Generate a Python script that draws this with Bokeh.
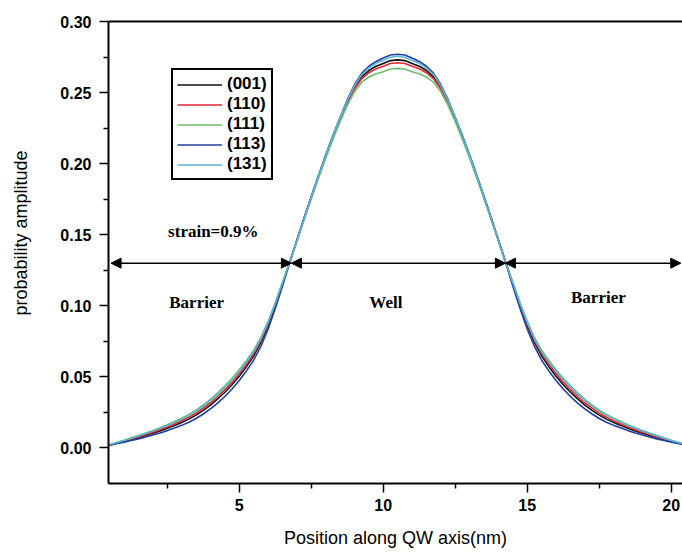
import numpy as np
from bokeh.plotting import figure
from bokeh.models import (Range1d, FixedTicker, LinearAxis, Legend, LegendItem,
                          Arrow, NormalHead, Label, Title, PrintfTickFormatter)
from bokeh.embed import file_html
from bokeh.resources import INLINE

# ---------------- data ----------------
position_nm = [0.5, 0.75, 1.0, 1.25, 1.5, 1.75, 2.0, 2.25, 2.5, 2.75,
               3.0, 3.25, 3.5, 3.75, 4.0, 4.25, 4.5, 4.75, 5.0, 5.25,
               5.5, 5.75, 6.0, 6.25, 6.5, 6.75, 7.0, 7.25, 7.5, 7.75,
               8.0, 8.25, 8.5, 8.75, 9.0, 9.25, 9.5, 9.75, 10.0, 10.25,
               10.5,
               10.75, 11.0, 11.25, 11.5, 11.75, 12.0, 12.25, 12.5, 12.75, 13.0,
               13.25, 13.5, 13.75, 14.0, 14.25, 14.5, 14.75, 15.0, 15.25, 15.5,
               15.75, 16.0, 16.25, 16.5, 16.75, 17.0, 17.25, 17.5, 17.75, 18.0,
               18.25, 18.5, 18.75, 19.0, 19.25, 19.5, 19.75, 20.0, 20.25, 20.5]

amp_001 = [0.0020, 0.0033, 0.0045, 0.0058, 0.0072, 0.0087, 0.0103, 0.0120, 0.0138, 0.0158,
           0.0179, 0.0203, 0.0231, 0.0265, 0.0302, 0.0345, 0.0392, 0.0445, 0.0505, 0.0572,
           0.0647, 0.0742, 0.0860, 0.1000, 0.1150, 0.1305, 0.1460, 0.1613, 0.1763, 0.1910,
           0.2053, 0.2188, 0.2315, 0.2435, 0.2535, 0.2610, 0.2655, 0.2685, 0.2705, 0.2725,
           0.2730,
           0.2725, 0.2705, 0.2685, 0.2655, 0.2610, 0.2535, 0.2435, 0.2315, 0.2188, 0.2053,
           0.1910, 0.1763, 0.1613, 0.1460, 0.1305, 0.1150, 0.1000, 0.0860, 0.0742, 0.0647,
           0.0572, 0.0505, 0.0445, 0.0392, 0.0345, 0.0302, 0.0265, 0.0231, 0.0203, 0.0179,
           0.0158, 0.0138, 0.0120, 0.0103, 0.0087, 0.0072, 0.0058, 0.0045, 0.0033, 0.0020]

amp_110 = [0.0020, 0.0035, 0.0048, 0.0063, 0.0078, 0.0094, 0.0111, 0.0129, 0.0148, 0.0169,
           0.0191, 0.0216, 0.0245, 0.0280, 0.0318, 0.0362, 0.0410, 0.0463, 0.0523, 0.0589,
           0.0663, 0.0756, 0.0872, 0.1009, 0.1156, 0.1305, 0.1460, 0.1612, 0.1761, 0.1907,
           0.2049, 0.2183, 0.2309, 0.2427, 0.2525, 0.2597, 0.2640, 0.2667, 0.2685, 0.2705,
           0.2710,
           0.2705, 0.2685, 0.2667, 0.2640, 0.2597, 0.2525, 0.2427, 0.2309, 0.2183, 0.2049,
           0.1907, 0.1761, 0.1612, 0.1460, 0.1305, 0.1156, 0.1009, 0.0872, 0.0756, 0.0663,
           0.0589, 0.0523, 0.0463, 0.0410, 0.0362, 0.0318, 0.0280, 0.0245, 0.0216, 0.0191,
           0.0169, 0.0148, 0.0129, 0.0111, 0.0094, 0.0078, 0.0063, 0.0048, 0.0035, 0.0020]

amp_111 = [0.0023, 0.0040, 0.0055, 0.0071, 0.0087, 0.0105, 0.0123, 0.0143, 0.0163, 0.0186,
           0.0209, 0.0236, 0.0266, 0.0303, 0.0342, 0.0388, 0.0437, 0.0490, 0.0550, 0.0615,
           0.0687, 0.0777, 0.0890, 0.1022, 0.1165, 0.1305, 0.1455, 0.1605, 0.1753, 0.1897,
           0.2038, 0.2170, 0.2295, 0.2410, 0.2505, 0.2572, 0.2610, 0.2633, 0.2647, 0.2666,
           0.2670,
           0.2666, 0.2647, 0.2633, 0.2610, 0.2572, 0.2505, 0.2410, 0.2295, 0.2170, 0.2038,
           0.1897, 0.1753, 0.1605, 0.1455, 0.1305, 0.1165, 0.1022, 0.0890, 0.0777, 0.0687,
           0.0615, 0.0550, 0.0490, 0.0437, 0.0388, 0.0342, 0.0303, 0.0266, 0.0236, 0.0209,
           0.0186, 0.0163, 0.0143, 0.0123, 0.0105, 0.0087, 0.0071, 0.0055, 0.0040, 0.0023]

amp_113 = [0.0020, 0.0031, 0.0041, 0.0052, 0.0064, 0.0077, 0.0091, 0.0106, 0.0122, 0.0140,
           0.0159, 0.0181, 0.0207, 0.0239, 0.0275, 0.0316, 0.0362, 0.0415, 0.0475, 0.0542,
           0.0617, 0.0714, 0.0835, 0.0981, 0.1138, 0.1305, 0.1462, 0.1617, 0.1769, 0.1917,
           0.2061, 0.2197, 0.2325, 0.2450, 0.2555, 0.2635, 0.2685, 0.2719, 0.2743, 0.2764,
           0.2770,
           0.2764, 0.2743, 0.2719, 0.2685, 0.2635, 0.2555, 0.2450, 0.2325, 0.2197, 0.2061,
           0.1917, 0.1769, 0.1617, 0.1462, 0.1305, 0.1138, 0.0981, 0.0835, 0.0714, 0.0617,
           0.0542, 0.0475, 0.0415, 0.0362, 0.0316, 0.0275, 0.0239, 0.0207, 0.0181, 0.0159,
           0.0140, 0.0122, 0.0106, 0.0091, 0.0077, 0.0064, 0.0052, 0.0041, 0.0031, 0.0020]

amp_131 = [0.0023, 0.0038, 0.0053, 0.0068, 0.0084, 0.0101, 0.0119, 0.0138, 0.0158, 0.0180,
           0.0203, 0.0229, 0.0259, 0.0295, 0.0334, 0.0379, 0.0427, 0.0480, 0.0540, 0.0605,
           0.0677, 0.0768, 0.0882, 0.1016, 0.1160, 0.1305, 0.1457, 0.1611, 0.1763, 0.1912,
           0.2056, 0.2193, 0.2321, 0.2444, 0.2547, 0.2625, 0.2673, 0.2706, 0.2728, 0.2749,
           0.2755,
           0.2749, 0.2728, 0.2706, 0.2673, 0.2625, 0.2547, 0.2444, 0.2321, 0.2193, 0.2056,
           0.1912, 0.1763, 0.1611, 0.1457, 0.1305, 0.1160, 0.1016, 0.0882, 0.0768, 0.0677,
           0.0605, 0.0540, 0.0480, 0.0427, 0.0379, 0.0334, 0.0295, 0.0259, 0.0229, 0.0203,
           0.0180, 0.0158, 0.0138, 0.0119, 0.0101, 0.0084, 0.0068, 0.0053, 0.0038, 0.0023]

series_labels = ["(001)", "(110)", "(111)", "(113)", "(131)"]
series_values = [amp_001, amp_110, amp_111, amp_113, amp_131]
series_colors = ["#111111", "#e2262e", "#6cbf6a", "#1f3f9e", "#5cb6d8"]

x_major_ticks = [5, 10, 15, 20]
x_minor_ticks = [2.5, 7.5, 12.5, 17.5]
y_major_ticks = [0.00, 0.05, 0.10, 0.15, 0.20, 0.25, 0.30]
y_minor_ticks = [0.025, 0.075, 0.125, 0.175, 0.225, 0.275]

# region arrows: (start, end) along x at the arrow level
arrow_level = 0.13
region_bounds = [(0.55, 6.81), (6.81, 14.24), (14.24, 20.33)]
region_texts = ["Barrier", "Well", "Barrier"]
region_text_x = [3.52, 10.09, 17.47]
region_text_y = [0.1025, 0.1023, 0.106]
strain_text = "strain=0.9%"
strain_xy = (4.10, 0.152)

# ---------------- figure ----------------
p = figure(width=682, height=554,
           x_range=Range1d(0.46, 20.39), y_range=Range1d(-0.025, 0.30),
           output_backend="svg", toolbar_location=None,
           min_border_left=108, min_border_right=0,
           min_border_top=21, min_border_bottom=71)
p.background_fill_color = "white"
p.border_fill_color = "white"
p.outline_line_color = None
p.xgrid.visible = False
p.ygrid.visible = False

renderers = []
for vals, col in zip(series_values, series_colors):
    r = p.line(position_nm, vals, line_color=col, line_width=1.6)
    renderers.append(r)

# axes
xa = p.xaxis[0]
xa.ticker = FixedTicker(ticks=x_major_ticks, minor_ticks=x_minor_ticks)
xa.axis_label = "Position along QW axis(nm)"
xa.axis_label_text_font = "Liberation Sans"
xa.axis_label_text_font_size = "18px"
xa.axis_label_text_font_style = "normal"
xa.axis_label_standoff = 14
xa.major_label_text_font = "Liberation Sans"
xa.major_label_text_font_size = "16px"
xa.major_label_text_font_style = "bold"
xa.major_label_standoff = 6

ya = p.yaxis[0]
ya.ticker = FixedTicker(ticks=y_major_ticks, minor_ticks=y_minor_ticks)
ya.formatter = PrintfTickFormatter(format="%.2f")
ya.major_label_text_font = "Liberation Sans"
ya.major_label_text_font_size = "16px"
ya.major_label_text_font_style = "bold"
ya.major_label_standoff = 8

for ax in (xa, ya):
    ax.axis_line_width = 2
    ax.axis_line_color = "black"
    ax.major_tick_line_width = 1.5
    ax.minor_tick_line_width = 1.5
    ax.major_tick_in = 0
    ax.minor_tick_in = 0
    ax.major_label_text_color = "black"
    ax.axis_label_text_color = "black"
xa.major_tick_out = 9
xa.minor_tick_out = 5
ya.major_tick_out = 9
ya.minor_tick_out = 5

top = LinearAxis(ticker=FixedTicker(ticks=[]), axis_line_width=2,
                 major_tick_out=0, minor_tick_out=0, major_tick_in=0, minor_tick_in=0,
                 major_label_text_font_size="0px")
p.add_layout(top, "above")

# spacer between tick labels and y title, then the y title (shifted up like the reference)
spacer = Title(text=" ", text_font_size="1px", standoff=24)
p.add_layout(spacer, "left")
ytitle = Title(text="probability amplitude", align="left", offset=168, standoff=0,
               text_font="Liberation Sans", text_font_size="18px",
               text_font_style="normal", text_color="black")
p.add_layout(ytitle, "left")

# arrows
for xs, xe in region_bounds:
    p.add_layout(Arrow(start=NormalHead(size=10, fill_color="black", line_color="black"),
                       end=NormalHead(size=10, fill_color="black", line_color="black"),
                       x_start=xs, y_start=arrow_level, x_end=xe, y_end=arrow_level,
                       line_width=1.5, line_color="black"))

for t, tx, ty in zip(region_texts, region_text_x, region_text_y):
    p.add_layout(Label(x=tx, y=ty, text=t, text_font="Liberation Serif",
                       text_font_style="bold", text_font_size="17px",
                       text_align="center", text_baseline="middle", text_color="black"))
p.add_layout(Label(x=strain_xy[0], y=strain_xy[1], text=strain_text,
                   text_font="Liberation Serif", text_font_style="bold",
                   text_font_size="17px", text_align="center", text_baseline="middle",
                   text_color="black"))

# legend
legend = Legend(items=[LegendItem(label=l, renderers=[r]) for l, r in zip(series_labels, renderers)],
                location=(63, 303))
legend.border_line_color = "black"
legend.border_line_alpha = 1.0
legend.border_line_width = 2
legend.padding = 4
legend.spacing = 0
legend.margin = 0
legend.glyph_width = 45
legend.glyph_height = 19
legend.label_height = 19
legend.label_standoff = 5
legend.label_text_font = "Liberation Sans"
legend.label_text_font_size = "17px"
legend.label_text_font_style = "bold"
legend.label_text_color = "black"
legend.background_fill_alpha = 1.0
p.add_layout(legend)

open("out.html", "w").write(file_html(p, INLINE))
